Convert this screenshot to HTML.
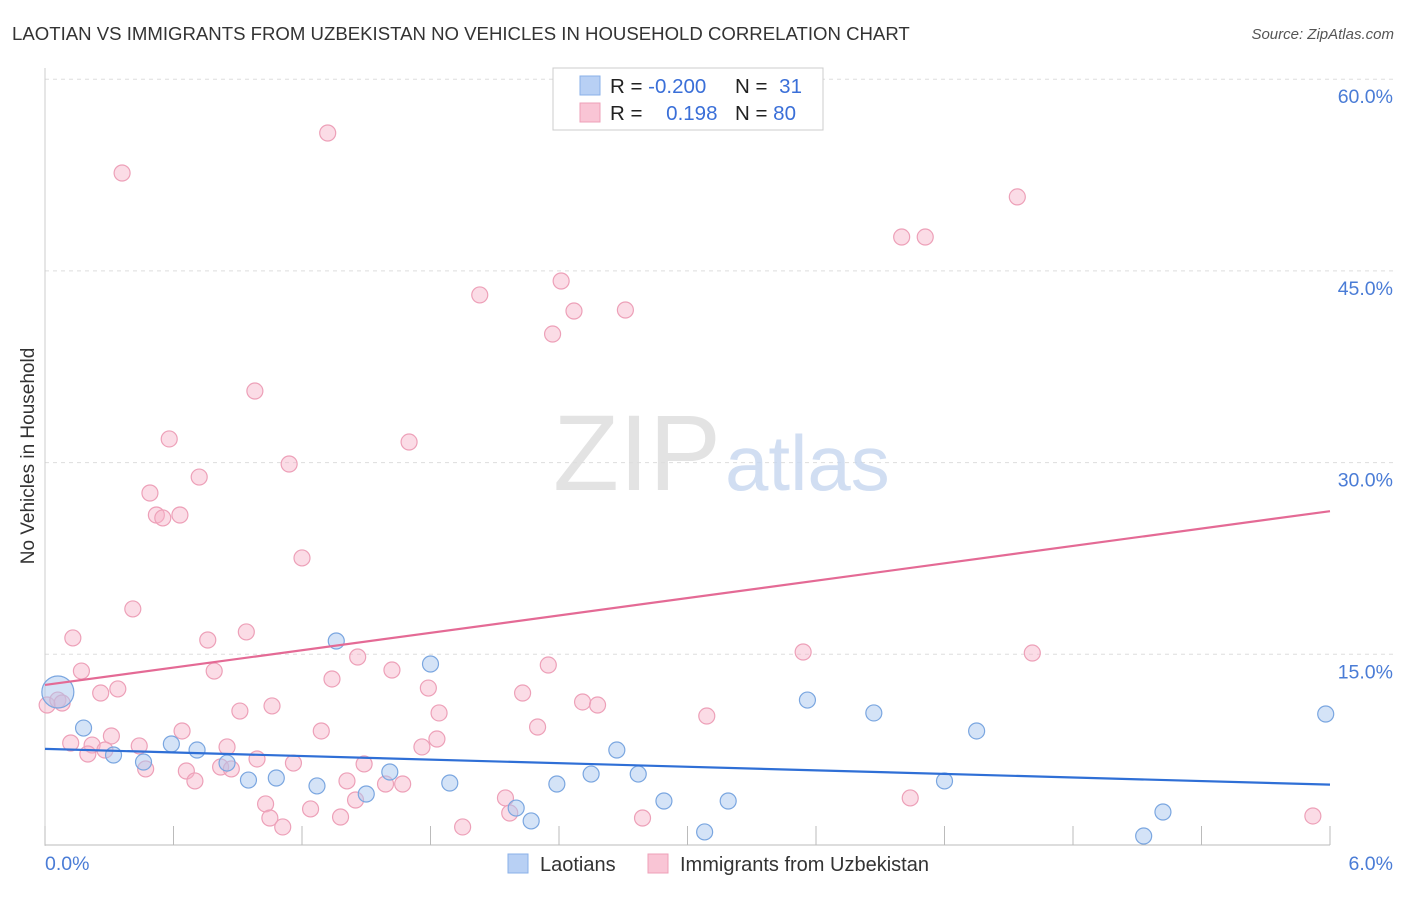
<!DOCTYPE html>
<html><head><meta charset="utf-8"><style>
body{margin:0;background:#fff;font-family:"Liberation Sans",sans-serif;}
svg text{font-family:"Liberation Sans",sans-serif;}
</style></head><body>
<svg id="chart" width="1406" height="892" xmlns="http://www.w3.org/2000/svg">
<text x="12" y="40" font-size="18.6" fill="#333">LAOTIAN VS IMMIGRANTS FROM UZBEKISTAN NO VEHICLES IN HOUSEHOLD CORRELATION CHART</text>
<text x="1394" y="39" font-size="15" fill="#555" text-anchor="end" font-style="italic">Source: ZipAtlas.com</text>
<text transform="translate(34,456) rotate(-90)" font-size="19" fill="#333" text-anchor="middle">No Vehicles in Household</text>
<g id="grid"></g>
<text x="553" y="490" font-size="108" fill="#ddd" font-family="Liberation Serif" opacity="0.8">ZIP<tspan fill="#c6d7f0" font-family="Liberation Sans" font-size="78" dx="4">atlas</tspan></text>
<g id="marks"></g>
<g>
<rect x="553" y="68" width="270" height="62" fill="#fff" stroke="#ccc"/>
<rect x="580" y="76" width="20" height="19" fill="#b8d0f4" stroke="#8ab0e8"/>
<rect x="580" y="103" width="20" height="19" fill="#f9c5d5" stroke="#eea0b8"/>
<text x="610" y="93" font-size="20.5" fill="#222">R = <tspan fill="#3a6fd8">-0.200</tspan></text>
<text x="735" y="93" font-size="20.5" fill="#222">N = <tspan fill="#3a6fd8" dx="6">31</tspan></text>
<text x="610" y="120" font-size="20.5" fill="#222">R = <tspan fill="#3a6fd8" dx="18">0.198</tspan></text>
<text x="735" y="120" font-size="20.5" fill="#222">N = <tspan fill="#3a6fd8">80</tspan></text>
</g>
<g>
<rect x="508" y="854" width="20" height="19" fill="#b8d0f4" stroke="#8ab0e8"/>
<text x="540" y="871" font-size="20" fill="#333">Laotians</text>
<rect x="648" y="854" width="20" height="19" fill="#f9c5d5" stroke="#eea0b8"/>
<text x="680" y="871" font-size="20" fill="#333">Immigrants from Uzbekistan</text>
</g>
</svg>
<script>
const xTicks=[0,0.6,1.2,1.8,2.4,3,3.6,4.2,4.8,5.4,6];
const yTicks=[15,30,45,60];
const yTickLabels=["15.0%","30.0%","45.0%","60.0%"];
const xLabels=["0.0%","6.0%"];
const blueX=[0.06,0.18,0.32,0.46,0.59,0.71,0.85,0.95,1.08,1.27,1.36,1.50,1.61,1.80,1.89,2.20,2.27,2.39,2.55,2.67,2.77,2.89,3.08,3.19,3.56,3.87,4.20,4.35,5.13,5.22,5.98];
const blueY=[12.05,9.23,7.12,6.57,7.98,7.51,6.49,5.16,5.32,4.70,16.04,4.07,5.79,14.24,4.93,2.97,1.96,4.85,5.63,7.51,5.63,3.52,1.10,3.52,11.42,10.41,5.09,9.00,0.78,2.66,10.33];
const pinkX=[0.36,1.32,4.54,4.00,4.11,2.41,2.03,2.47,2.71,2.37,0.98,0.58,1.70,1.14,0.72,0.49,0.52,0.55,0.63,1.20,0.41,0.13,0.76,0.94,0.17,0.79,1.46,2.35,1.62,1.34,3.54,4.61,0.34,0.26,1.79,2.23,2.51,2.58,1.06,0.91,1.84,3.09,2.30,0.64,1.29,0.31,0.12,0.44,0.22,0.28,0.20,0.85,1.83,1.76,0.99,1.16,1.49,0.82,0.87,0.66,0.47,0.70,1.41,1.59,1.67,1.45,2.15,4.04,1.03,1.24,2.17,2.79,1.05,1.38,1.95,1.11,5.92,0.01,0.06,0.08];
const pinkY=[52.66,55.79,50.79,47.65,47.65,44.21,43.12,41.86,41.94,40.06,35.60,31.85,31.61,29.89,28.87,27.62,25.90,25.67,25.90,22.54,18.55,16.28,16.12,16.75,13.69,13.69,14.79,14.16,13.77,13.07,15.18,15.10,12.29,11.97,12.36,11.97,11.27,11.03,10.96,10.56,10.41,10.17,9.31,9.00,9.00,8.61,8.06,7.83,7.90,7.51,7.20,7.75,8.37,7.75,6.81,6.49,6.42,6.18,6.03,5.87,6.03,5.09,5.09,4.85,4.85,3.60,3.76,3.76,3.29,2.90,2.58,2.19,2.19,2.27,1.49,1.49,2.35,11.03,11.42,11.19];
const blueTrend=[7.6,4.8];
const pinkTrend=[12.6,26.2];
const NS="http://www.w3.org/2000/svg";
const X=v=>45+v/6*1285, Y=v=>846-v/15*191.7;
function mk(t,a,p){const e=document.createElementNS(NS,t);for(const k in a)e.setAttribute(k,a[k]);p.appendChild(e);return e;}
const grid=document.getElementById('grid'),marks=document.getElementById('marks');
yTicks.forEach((t,i)=>{
 const l=mk('line',{x1:45,x2:1393,y1:Y(t),y2:Y(t),stroke:'#ddd','stroke-dasharray':'4,4'},grid);
 
 
 const tx=mk('text',{x:1393,y:Y(t)+24,'font-size':19.5,fill:'#4a7cd6','text-anchor':'end'},grid);
 tx.textContent=yTickLabels[i];
 
 
});
const ax=mk('line',{x1:45,x2:45,y1:68,y2:846,stroke:'#ccc'},grid);


const bx=mk('line',{x1:45,x2:1330,y1:845,y2:845,stroke:'#bbb'},grid);


xTicks.forEach(t=>{const l=mk('line',{x1:X(t),x2:X(t),y1:826,y2:845,stroke:'#bbb'},grid);
 
 });
[[0,'start',45],[6,'end',1393]].forEach((d,i)=>{const tx=mk('text',{x:d[2],y:870,'font-size':19.5,fill:'#4a7cd6','text-anchor':d[1]},grid);tx.textContent=xLabels[i];
 
 });
pinkX.forEach((x,i)=>{const c=mk('circle',{cx:X(x),cy:Y(pinkY[i]),r:8,fill:'rgba(246,178,200,0.45)',stroke:'#eda0b8','stroke-width':1.2},marks);
 
 });
blueX.forEach((x,i)=>{const c=mk('circle',{cx:X(x),cy:Y(blueY[i]),r:i==0?16:8,fill:'rgba(170,200,240,0.5)',stroke:'#7aa6e0','stroke-width':1.2},marks);
 
 });
const bt=mk('line',{x1:X(0),x2:X(6),y1:Y(blueTrend[0]),y2:Y(blueTrend[1]),stroke:'#2f6fd6','stroke-width':2.2},marks);


const pt=mk('line',{x1:X(0),x2:X(6),y1:Y(pinkTrend[0]),y2:Y(pinkTrend[1]),stroke:'#e46a95','stroke-width':2.2},marks);


</script>
</body></html>
